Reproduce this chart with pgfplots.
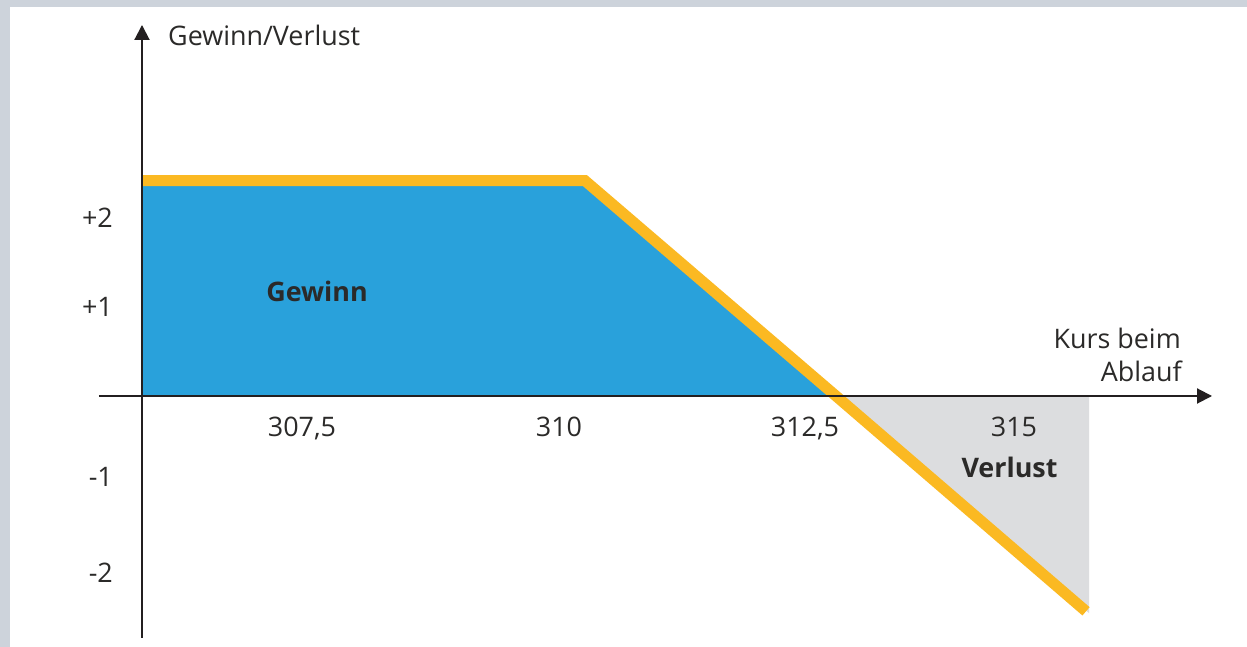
\documentclass[border=0pt]{standalone}
\usepackage{pgfplots}
\pgfplotsset{compat=1.18}
\usetikzlibrary{arrows.meta}
\usepackage{fontspec}
\setmainfont{Open Sans}
\definecolor{bgborder}{HTML}{CDD3DB}
\definecolor{gewinnblue}{HTML}{29A1DB}
\definecolor{lineorange}{HTML}{FBB922}
\definecolor{verlustgray}{HTML}{DCDDDF}
\definecolor{axisdark}{HTML}{231F20}
\definecolor{textdark}{HTML}{2B2A29}
\newcommand{\lblfont}{\fontsize{27}{32}\selectfont}
\begin{document}
\begin{tikzpicture}[x=1bp,y=1bp]
\fill[bgborder] (-142,-251) rectangle (1105,396);
\fill[white] (-132,-251) rectangle (1105,389);
\useasboundingbox (-142,-251) rectangle (1105,396);
\begin{axis}[
  axis on top,
  at={(0,0)}, anchor=origin,
  scale only axis, width=1113bp, height=613bp,
  xmin=-0.43, xmax=10.70, ymin=-2.72, ymax=4.17,
  axis lines=middle,
  clip=false,
  axis line style={line width=2bp, draw=axisdark, -{Triangle[length=15bp,width=15bp]}},
  major tick length=0pt,
  xtick={1.60,4.17,6.63,8.72},
  xticklabels={{307,5},{310},{312,5},{315}},
  ytick={2,1,-0.91,-1.99},
  yticklabels={{+2},{+1},{-1},{-2}},
  xticklabel style={anchor=base, yshift=-41bp, inner sep=0pt, text=textdark, font=\lblfont},
  yticklabel style={anchor=east, xshift=-29bp, inner sep=0pt, text=textdark, font=\lblfont},
]
\addplot[fill=gewinnblue, draw=none] coordinates {(0.01,0) (0.01,2.42) (4.43,2.42) (6.94,0)} -- cycle;
\addplot[fill=verlustgray, draw=none] coordinates {(6.94,0) (9.47,0) (9.47,-2.44)} -- cycle;
\addplot[lineorange, line width=11bp, line join=miter] coordinates {(0.01,2.42) (4.43,2.42) (6.94,0) (9.44,-2.42)};
\end{axis}
\begin{scope}[every node/.style={inner sep=0pt, text=textdark, font=\lblfont}]
\node[anchor=base west] at (26,350) {Gewinn/Verlust};
\node[anchor=base east] at (1039,47) {Kurs beim};
\node[anchor=base east] at (1040,14) {Ablauf};
\node[anchor=base, font=\lblfont\bfseries] at (175,94) {Gewinn};
\node[anchor=base, font=\lblfont\bfseries] at (867.5,-82) {Verlust};
\end{scope}
\end{tikzpicture}
\end{document}
